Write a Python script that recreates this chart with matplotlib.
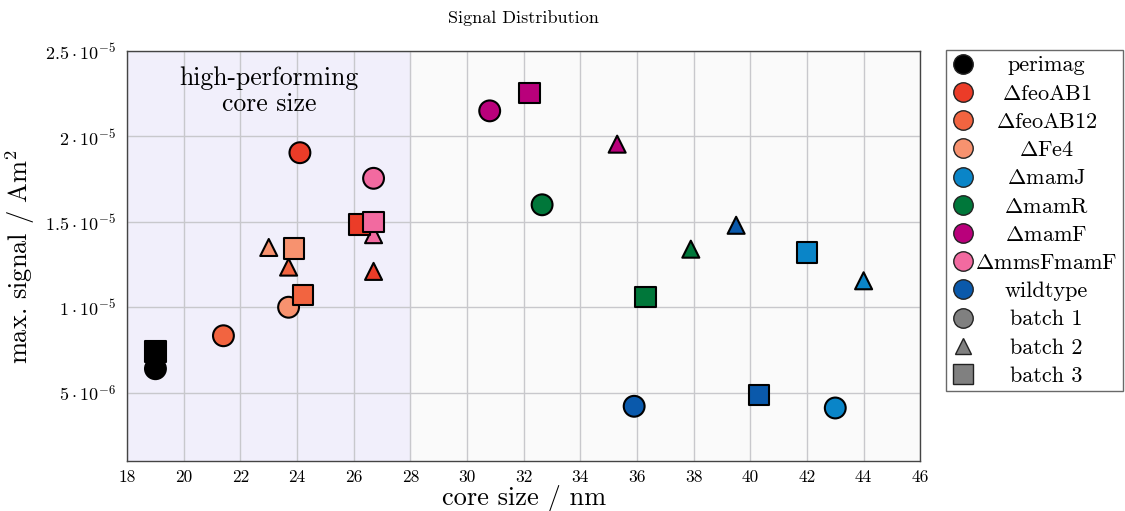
import numpy as np
import matplotlib
matplotlib.use("Agg")
import matplotlib.pyplot as plt
from matplotlib.lines import Line2D
from matplotlib.ticker import FuncFormatter

plt.rcParams['font.family'] = 'serif'
plt.rcParams['font.serif'] = ['cmr10']
plt.rcParams['mathtext.fontset'] = 'cm'
plt.rcParams['axes.unicode_minus'] = False

# Stämme und Farben
strains = ["perimag", r"$\Delta$feoAB1", r"$\Delta$feoAB12", r"$\Delta$Fe4", r"$\Delta$mamJ",
           r"$\Delta$mamR", r"$\Delta$mamF", r"$\Delta$mmsFmamF", "wildtype"]
colors = ["#000000", "#eb3c28", "#f26440", "#f7926f", "#0a85c8",
          "#00773a", "#b9007b", "#f26aa0", "#0a59ab"]

# Kerngröße (nm) und max. Signal (Am^2) je Batch
core_b1 = [19.0, 24.1, 21.4, 23.7, 43.0, 32.65, 30.8, 26.7, 35.9]
signal_b1 = [6.4e-6, 1.905e-5, 8.33e-6, 1.0e-5, 4.1e-6, 1.60e-5, 2.15e-5, 1.755e-5, 4.2e-6]
core_b2 = [np.nan, 26.7, 23.7, 23.0, 44.0, 37.9, 35.3, 26.7, 39.5]
signal_b2 = [np.nan, 1.21e-5, 1.235e-5, 1.35e-5, 1.155e-5, 1.34e-5, 1.955e-5, 1.425e-5, 1.48e-5]
core_b3 = [19.0, 26.2, 24.2, 23.9, 42.0, 36.3, 32.2, 26.7, 40.3]
signal_b3 = [7.4e-6, 1.485e-5, 1.07e-5, 1.345e-5, 1.32e-5, 1.06e-5, 2.255e-5, 1.50e-5, 4.85e-6]

batches = ["batch 1", "batch 2", "batch 3"]
markers = ["o", "^", "s"]
sizes = [225, 150, 215]

fig, ax = plt.subplots(figsize=(11.25, 5.11), dpi=100)
fig.subplots_adjust(left=0.113, right=0.818, top=0.9, bottom=0.098)

ax.set_facecolor("#fafafa")
ax.axvspan(18, 28, color="#f1effb", zorder=0)
ax.grid(True, color="#c8c8cc", linewidth=1.0, zorder=1)
ax.set_axisbelow(True)

data = [(core_b1, signal_b1), (core_b2, signal_b2), (core_b3, signal_b3)]
for (xs, ys), m, s in zip(data, markers, sizes):
    ax.scatter(xs, ys, marker=m, s=s, c=colors, edgecolors="black", linewidths=1.5, zorder=3)

ax.set_xlim(18, 46)
ax.set_ylim(1e-6, 2.5e-5)
ax.set_xticks(np.arange(18, 47, 2))
ax.set_yticks([5e-6, 1e-5, 1.5e-5, 2e-5, 2.5e-5])


def sci_fmt(v, pos):
    exp = int(np.floor(np.log10(v) + 1e-9))
    mant = v / 10 ** exp
    mant_s = f"{mant:g}"
    return rf"${mant_s} \cdot 10^{{{exp}}}$"


ax.yaxis.set_major_formatter(FuncFormatter(sci_fmt))
ax.tick_params(axis="y", labelsize=13, length=0, pad=8)
ax.tick_params(axis="x", labelsize=12.5, length=0, pad=6)
for sp in ax.spines.values():
    sp.set_color("#444444")
    sp.set_linewidth(1.0)

ax.set_xlabel("core size / nm", fontsize=19, labelpad=0)
ax.set_ylabel(r"max. signal / Am$^2$", fontsize=19, labelpad=6)
ax.set_title("Signal Distribution", fontsize=13, pad=20)

ax.text(23, 2.265e-5, "high-performing\ncore size", fontsize=18.5, ha="center", va="center",
        linespacing=1.1)

# Legende
handles = [Line2D([], [], marker="o", linestyle="", markersize=14, markerfacecolor=c,
                  markeredgecolor="#222222", markeredgewidth=1.0) for c in colors]
for m, ms in zip(markers, [14, 11, 14]):
    handles.append(Line2D([], [], marker=m, linestyle="", markersize=ms, markerfacecolor="#808080",
                          markeredgecolor="#222222", markeredgewidth=1.0))
leg = ax.legend(handles, strains + batches, loc="upper left", bbox_to_anchor=(1.033, 1.002),
                fontsize=16, frameon=True, fancybox=False, edgecolor="#444444",
                handletextpad=0.05, labelspacing=0.39, borderpad=0.25, handlelength=1.0,
                borderaxespad=0)
leg.get_frame().set_linewidth(1.0)

# Legendentexte zentrieren
renderer = fig.canvas.get_renderer()
widths = [t.get_window_extent(renderer).width for t in leg.get_texts()]
maxw = max(widths)
for t, w in zip(leg.get_texts(), widths):
    t.set_position(((maxw - w) / 2, 0))

fig.savefig("out.png", dpi=100)
